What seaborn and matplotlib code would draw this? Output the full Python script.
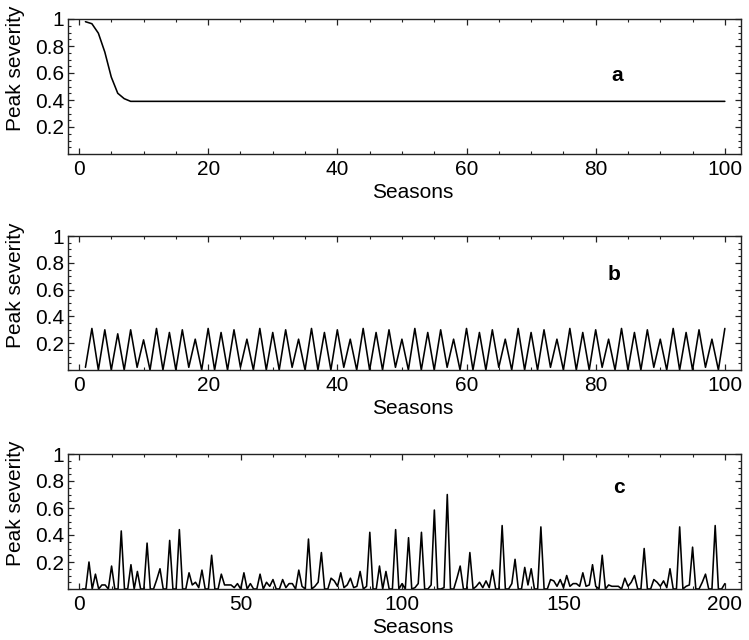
import matplotlib
matplotlib.use("Agg")
import matplotlib.pyplot as plt
import seaborn as sns
import pandas as pd
from matplotlib.ticker import MultipleLocator, FixedLocator, FixedFormatter

# ---------------- data ----------------
seasons_ab = list(range(1, 101))
seasons_c = list(range(1, 201))

severity_a = [
    0.98, 0.965, 0.895, 0.755, 0.57, 0.45, 0.41, 0.39, 0.39, 0.39,
    0.39, 0.39, 0.39, 0.39, 0.39, 0.39, 0.39, 0.39, 0.39, 0.39,
    0.39, 0.39, 0.39, 0.39, 0.39, 0.39, 0.39, 0.39, 0.39, 0.39,
    0.39, 0.39, 0.39, 0.39, 0.39, 0.39, 0.39, 0.39, 0.39, 0.39,
    0.39, 0.39, 0.39, 0.39, 0.39, 0.39, 0.39, 0.39, 0.39, 0.39,
    0.39, 0.39, 0.39, 0.39, 0.39, 0.39, 0.39, 0.39, 0.39, 0.39,
    0.39, 0.39, 0.39, 0.39, 0.39, 0.39, 0.39, 0.39, 0.39, 0.39,
    0.39, 0.39, 0.39, 0.39, 0.39, 0.39, 0.39, 0.39, 0.39, 0.39,
    0.39, 0.39, 0.39, 0.39, 0.39, 0.39, 0.39, 0.39, 0.39, 0.39,
    0.39, 0.39, 0.39, 0.39, 0.39, 0.39, 0.39, 0.39, 0.39, 0.39,
]

severity_b = [
    0.02, 0.31, 0.0, 0.30, 0.0, 0.27, 0.0, 0.30, 0.02, 0.225,
    0.0, 0.31, 0.0, 0.28, 0.0, 0.30, 0.02, 0.23,
    0.0, 0.31, 0.0, 0.28, 0.0, 0.30, 0.02, 0.23,
    0.0, 0.31, 0.0, 0.28, 0.0, 0.30, 0.02, 0.23,
    0.0, 0.31, 0.0, 0.28, 0.0, 0.30, 0.02, 0.23,
    0.0, 0.31, 0.0, 0.28, 0.0, 0.30, 0.02, 0.23,
    0.0, 0.31, 0.0, 0.28, 0.0, 0.30, 0.02, 0.23,
    0.0, 0.31, 0.0, 0.28, 0.0, 0.30, 0.02, 0.23,
    0.0, 0.31, 0.0, 0.28, 0.0, 0.30, 0.02, 0.23,
    0.0, 0.31, 0.0, 0.28, 0.0, 0.30, 0.02, 0.23,
    0.0, 0.31, 0.0, 0.28, 0.0, 0.30, 0.02, 0.23,
    0.0, 0.31, 0.0, 0.28, 0.0, 0.30, 0.02, 0.23,
    0.0, 0.31,
]

severity_c = [
    0.0, 0.0, 0.20, 0.0, 0.11, 0.0, 0.03, 0.03, 0.0, 0.17,        # 1-10
    0.0, 0.0, 0.43, 0.0, 0.0, 0.18, 0.0, 0.13, 0.0, 0.0,          # 11-20
    0.34, 0.0, 0.0, 0.07, 0.15, 0.0, 0.0, 0.36, 0.0, 0.0,         # 21-30
    0.44, 0.0, 0.0, 0.12, 0.03, 0.05, 0.01, 0.14, 0.0, 0.0,       # 31-40
    0.25, 0.0, 0.0, 0.11, 0.03, 0.03, 0.03, 0.01, 0.04, 0.0,      # 41-50
    0.12, 0.0, 0.04, 0.0, 0.0, 0.11, 0.0, 0.05, 0.02, 0.07,       # 51-60
    0.0, 0.0, 0.07, 0.01, 0.04, 0.04, 0.0, 0.14, 0.02, 0.0,       # 61-70
    0.37, 0.0, 0.02, 0.05, 0.27, 0.0, 0.0, 0.08, 0.06, 0.02,      # 71-80
    0.12, 0.01, 0.03, 0.08, 0.01, 0.02, 0.13, 0.0, 0.02, 0.42,    # 81-90
    0.0, 0.0, 0.17, 0.0, 0.13, 0.0, 0.0, 0.44, 0.0, 0.04,         # 91-100
    0.0, 0.38, 0.0, 0.01, 0.04, 0.42, 0.0, 0.0, 0.03, 0.585,      # 101-110
    0.0, 0.0, 0.01, 0.70, 0.0, 0.0, 0.08, 0.17, 0.0, 0.0,         # 111-120
    0.27, 0.0, 0.02, 0.05, 0.01, 0.06, 0.01, 0.14, 0.0, 0.0,      # 121-130
    0.47, 0.0, 0.0, 0.04, 0.22, 0.0, 0.0, 0.16, 0.03, 0.15,       # 131-140
    0.0, 0.0, 0.46, 0.0, 0.0, 0.07, 0.06, 0.02, 0.07, 0.01,       # 141-150
    0.10, 0.02, 0.04, 0.04, 0.02, 0.12, 0.02, 0.03, 0.18, 0.02,   # 151-160
    0.0, 0.25, 0.0, 0.03, 0.02, 0.02, 0.02, 0.0, 0.08, 0.02,      # 161-170
    0.05, 0.10, 0.0, 0.0, 0.30, 0.0, 0.0, 0.07, 0.05, 0.02,       # 171-180
    0.06, 0.01, 0.15, 0.0, 0.0, 0.46, 0.0, 0.02, 0.03, 0.31,      # 181-190
    0.0, 0.0, 0.05, 0.11, 0.0, 0.0, 0.47, 0.0, 0.0, 0.04,         # 191-200
]

panel_labels = ["a", "b", "c"]
x_label = "Seasons"
y_label = "Peak severity"
y_tick_values = [0.2, 0.4, 0.6, 0.8, 1.0]
y_tick_labels = ["0.2", "0.4", "0.6", "0.8", "1"]

# ---------------- style ----------------
sns.set_style("ticks")
plt.rcParams['font.family'] = ['Liberation Sans', 'DejaVu Sans']

fig = plt.figure(figsize=(7.49, 6.40), dpi=100)
L = 68 / 749
W = (741 - 68) / 749
rects = [
    (L, 1 - 154 / 640, W, 135 / 640),
    (L, 1 - 370 / 640, W, 134 / 640),
    (L, 1 - 589 / 640, W, 135 / 640),
]

panels = [
    (seasons_ab, severity_a, (-1.7, 102.5), 20, 5, (0.816, 0.585)),
    (seasons_ab, severity_b, (-1.7, 102.5), 20, 5, (0.812, 0.71)),
    (seasons_c, severity_c, (-3.5, 205.0), 50, 10, (0.819, 0.75)),
]

FS = 15
spine_col = "#222222"
for rect, (xs, ys, xlim, xmaj, xmin, lblpos), lab in zip(rects, panels, panel_labels):
    ax = fig.add_axes(rect)
    df = pd.DataFrame({"season": xs, "severity": ys})
    sns.lineplot(data=df, x="season", y="severity", ax=ax, color="black",
                 linewidth=1.15, estimator=None)
    ax.set_xlim(*xlim)
    ax.set_ylim(0, 1.0)
    ax.xaxis.set_major_locator(MultipleLocator(xmaj))
    ax.xaxis.set_minor_locator(MultipleLocator(xmin))
    ax.yaxis.set_major_locator(FixedLocator(y_tick_values))
    ax.yaxis.set_major_formatter(FixedFormatter(y_tick_labels))
    ax.yaxis.set_minor_locator(MultipleLocator(0.05))
    for s in ax.spines.values():
        s.set_visible(True)
        s.set_linewidth(1.0)
        s.set_color(spine_col)
    ax.tick_params(which="both", direction="in", top=True, right=True,
                   color=spine_col, labelsize=FS, labelcolor="black")
    ax.tick_params(which="major", length=4.5, width=0.9)
    ax.tick_params(which="minor", length=2.3, width=0.8)
    ax.tick_params(axis="x", which="major", pad=4)
    ax.tick_params(axis="y", which="major", pad=3)
    ax.set_xlabel(x_label, fontsize=FS, labelpad=0, color="black")
    ax.xaxis.set_label_coords(0.512, -0.215)
    ax.xaxis.label.set_va("top")
    ax.set_ylabel(y_label, fontsize=FS, color="black")
    ax.yaxis.set_label_coords(-0.064, 0.633)
    ax.text(lblpos[0], lblpos[1], lab, transform=ax.transAxes, fontsize=FS,
            fontweight="bold", ha="center", va="center", color="black")

fig.savefig("out.png", dpi=100, facecolor="white")
